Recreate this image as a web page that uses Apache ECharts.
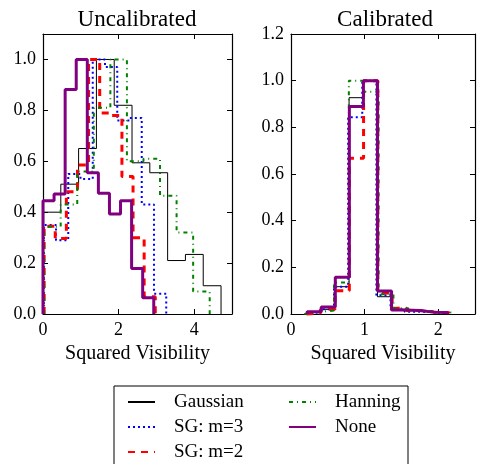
<!DOCTYPE html>
<html>
<head>
<meta charset="utf-8">
<script src="https://cdn.jsdelivr.net/npm/echarts@6/dist/echarts.min.js"></script>
<style>
  html, body { margin: 0; padding: 0; background: #fff; }
  #chart { width: 478px; height: 464px; }
</style>
</head>
<body>
<div id="chart"></div>
<script>
// series names, in legend order
const names = ['Gaussian', 'SG: m=3', 'SG: m=2', 'Hanning', 'None'];

// uncalibrated: [lo, hi] range of the 10 bins, and bin heights
const uncalRange = [[0.0, 4.71], [0.02, 3.26], [0.03, 2.97], [0.03, 4.41], [0.0, 2.93]];
const uncalGaussian = [0.40, 0.51, 0.65, 1.0, 0.82, 0.594, 0.555, 0.21, 0.234, 0.111];
const uncalSG3 = [0.35, 0.29, 0.55, 0.53, 1.0, 0.97, 0.76, 0.77, 0.43, 0.08];
const uncalSG2 = [0.345, 0.297, 0.48, 0.585, 1.0, 0.79, 0.78, 0.54, 0.30, 0.068];
const uncalHanning = [0.343, 0.43, 0.56, 0.81, 1.0, 0.60, 0.61, 0.465, 0.32, 0.088];
const uncalNone = [0.445, 0.471, 0.882, 1.0, 0.555, 0.474, 0.393, 0.445, 0.179, 0.064];

// calibrated
const calRange = [[0.21, 2.14], [0.20, 2.12], [0.21, 2.15], [0.18, 2.20], [0.22, 2.13]];
const calGaussian = [0.01, 0.02, 0.117, 0.927, 1.0, 0.074, 0.02, 0.012, 0.008, 0.005];
const calSG3 = [0.008, 0.02, 0.117, 0.843, 1.0, 0.08, 0.02, 0.01, 0.008, 0.004];
const calSG2 = [0.005, 0.02, 0.10, 0.667, 1.0, 0.09, 0.025, 0.015, 0.008, 0.005];
const calHanning = [0.008, 0.015, 0.135, 1.0, 0.953, 0.085, 0.025, 0.015, 0.01, 0.006];
const calNone = [0.01, 0.03, 0.157, 0.889, 1.0, 0.099, 0.017, 0.015, 0.008, 0.006];

const xTicksLeft = [0, 2, 4];
const xTicksRight = [0, 1, 2];

const styles = [
  { color: '#000000', width: 1, type: 'solid' },
  { color: '#0000ff', width: 2, type: [2, 3] },
  { color: '#ff0000', width: 3, type: [7, 6] },
  { color: '#008000', width: 2, type: [4, 4, 1, 4] },
  { color: '#800080', width: 3, type: 'solid' }
];

const FONT = '"Liberation Serif", "DejaVu Serif", serif';

// outline of a step histogram, as matplotlib histtype='step'
function stepPoints(range, vals) {
  const w = (range[1] - range[0]) / vals.length;
  const pts = [[range[0], 0]];
  vals.forEach((v, i) => {
    pts.push([range[0] + i * w, v]);
    pts.push([range[0] + (i + 1) * w, v]);
  });
  pts.push([range[1], 0]);
  return pts;
}

const chart = echarts.init(document.getElementById('chart'));

const grids = [
  { left: 43, top: 34, width: 189, height: 280 },
  { left: 291, top: 34, width: 189, height: 280 }
];

function tickFmt(list, digits) {
  return (v) => {
    const ok = list.some((t) => Math.abs(t - v) < 1e-6);
    return ok ? v.toFixed(digits) : '';
  };
}

function xAxes(gi, max, interval, ticks) {
  const base = {
    type: 'value', gridIndex: gi, min: 0, max: max, interval: interval,
    splitLine: { show: false },
    axisLine: { show: true, onZero: false, lineStyle: { color: '#000', width: 1.2 } },
    axisTick: { inside: true, length: 5, lineStyle: { color: '#000' } }
  };
  return [
    Object.assign({}, base, {
      position: 'bottom',
      name: 'Squared Visibility', nameLocation: 'middle', nameGap: 28,
      nameTextStyle: { fontFamily: FONT, fontSize: 20, color: '#000' },
      axisLabel: { margin: 7, fontFamily: FONT, fontSize: 18, color: '#000', formatter: tickFmt(ticks, 0) }
    }),
    Object.assign({}, base, { position: 'top', axisLabel: { show: false } })
  ];
}

function yAxes(gi, max, ticks) {
  const base = {
    type: 'value', gridIndex: gi, min: 0, max: max, interval: 0.2,
    splitLine: { show: false },
    axisLine: { show: true, onZero: false, lineStyle: { color: '#000', width: 1.2 } },
    axisTick: { inside: true, length: 5, lineStyle: { color: '#000' } }
  };
  return [
    Object.assign({}, base, {
      position: 'left',
      axisLabel: { margin: 7, fontFamily: FONT, fontSize: 18, color: '#000', formatter: tickFmt(ticks, 1) }
    }),
    Object.assign({}, base, { position: 'right', axisLabel: { show: false } })
  ];
}

const uncal = [uncalGaussian, uncalSG3, uncalSG2, uncalHanning, uncalNone];
const cal = [calGaussian, calSG3, calSG2, calHanning, calNone];

const series = [];
[[uncal, uncalRange, 0], [cal, calRange, 2]].forEach(([sets, ranges, ax]) => {
  sets.forEach((vals, i) => {
    series.push({
      name: names[i],
      type: 'line',
      xAxisIndex: ax,
      yAxisIndex: ax,
      data: stepPoints(ranges[i], vals),
      symbol: 'none',
      clip: false,
      animation: false,
      color: styles[i].color,
      lineStyle: styles[i],
      z: 2 + i
    });
  });
});

const legendText = { fontFamily: FONT, fontSize: 19, color: '#000', lineHeight: 20, padding: [0, 0, 0, 14] };
const legendBase = {
  orient: 'vertical', top: 392, itemWidth: 27, itemHeight: 14, itemGap: 5, padding: 0,
  itemStyle: { opacity: 0, borderWidth: 0 },
  textStyle: legendText
};

const option = {
  backgroundColor: '#fff',
  animation: false,
  grid: grids,
  xAxis: xAxes(0, 5, 2, xTicksLeft).concat(xAxes(1, 2.5, 1, xTicksRight)),
  yAxis: yAxes(0, 1.1, [0, 0.2, 0.4, 0.6, 0.8, 1.0]).concat(yAxes(1, 1.2, [0, 0.2, 0.4, 0.6, 0.8, 1.0, 1.2])),
  legend: [
    Object.assign({}, legendBase, { data: names.slice(0, 3), left: 127 }),
    Object.assign({}, legendBase, { data: names.slice(3), left: 288 })
  ],
  graphic: [
    { type: 'text', x: 137, y: 8, style: { text: 'Uncalibrated', fontFamily: FONT, fontSize: 23, fill: '#000', textAlign: 'center' } },
    { type: 'text', x: 385, y: 8, style: { text: 'Calibrated', fontFamily: FONT, fontSize: 23, fill: '#000', textAlign: 'center' } },
    { type: 'rect', shape: { x: 114, y: 386, width: 294, height: 90 }, style: { fill: 'none', stroke: '#000', lineWidth: 1 }, z: -1 }
  ],
  series: series
};

chart.setOption(option);
</script>
</body>
</html>
